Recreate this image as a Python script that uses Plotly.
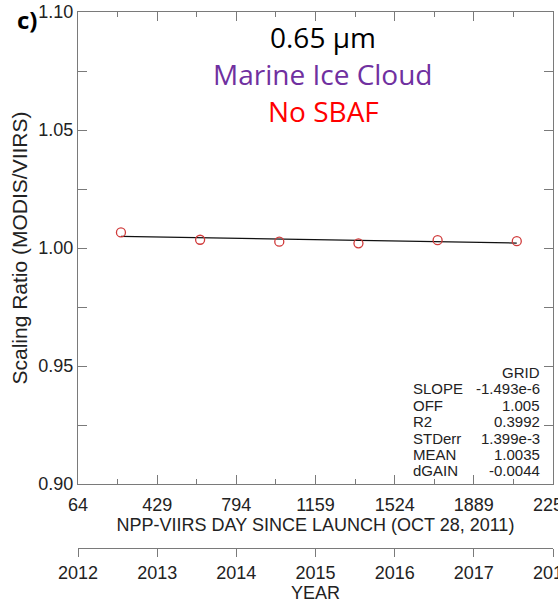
import numpy as np
import plotly.graph_objects as go

# ---- data ----
days = [262, 627, 992, 1357, 1722, 2087]
ratio = [1.0066, 1.0035, 1.0027, 1.0020, 1.0033, 1.0029]
day_ticks = [64, 429, 794, 1159, 1524, 1889, 2254]
y_ticks = [0.90, 0.95, 1.00, 1.05, 1.10]
years = [2012, 2013, 2014, 2015, 2016, 2017, 2018]
stat_header = "GRID"
stat_names = ["SLOPE", "OFF", "R2", "STDerr", "MEAN", "dGAIN"]
stat_values = ["-1.493e-6", "1.005", "0.3992", "1.399e-3", "1.0035", "-0.0044"]
title_lines = ["0.65 µm", "Marine Ice Cloud", "No SBAF"]
title_colors = ["#000000", "#7030A0", "#FF0000"]

# ---- geometry ----
W, H = 558, 606
ML, MR, MT, MB = 78, 5, 12, 58
PW, PH = W - ML - MR, H - MT - MB
PLOT_BOTTOM = 484


def px_x(px):
    return (px - ML) / PW


def px_y(py):
    return (H - MB - py) / PH


fit = np.polyfit(days, ratio, 1)
line_x = [days[0], days[-1]]
line_y = list(np.polyval(fit, line_x))

AX = "#7a7a7a"
TXT = "#222222"
FONT = "Liberation Sans, Arial, sans-serif"

fig = go.Figure()
fig.add_trace(go.Scatter(x=line_x, y=line_y, mode="lines",
                         line=dict(color="#111111", width=1.2), hoverinfo="skip"))
fig.add_trace(go.Scatter(x=days, y=ratio, mode="markers",
                         marker=dict(symbol="circle-open", size=9, color="#d03a3a",
                                     line=dict(width=1.3))))
fig.add_trace(go.Scatter(x=[years[0], years[-1]], y=[None, None], xaxis="x2", yaxis="y",
                         mode="markers", hoverinfo="skip"))

common = dict(showgrid=False, zeroline=False, showline=True, linecolor=AX, linewidth=1,
              tickcolor=AX, ticklabeloverflow="allow",
              tickfont=dict(family=FONT, size=18, color=TXT))

fig.update_layout(
    width=W, height=H, margin=dict(l=ML, r=MR, t=MT, b=MB, autoexpand=False),
    paper_bgcolor="white", plot_bgcolor="white", showlegend=False,
    font=dict(family=FONT, color=TXT),
    xaxis=dict(domain=[0, 1], range=[day_ticks[0], day_ticks[-1]], anchor="y",
               tickmode="array", tickvals=day_ticks, ticktext=[str(d) for d in day_ticks],
               ticks="inside", ticklen=9, mirror="allticks", ticklabelstandoff=4,
               minor=dict(ticks="inside", ticklen=5, tickcolor=AX, tick0=day_ticks[0],
                          dtick=(day_ticks[1] - day_ticks[0]) / 2, showgrid=False),
               title=dict(text="NPP-VIIRS DAY SINCE LAUNCH (OCT 28, 2011)",
                          font=dict(family=FONT, size=18, color=TXT), standoff=2),
               **common),
    yaxis=dict(domain=[(H - MB - PLOT_BOTTOM) / PH, 1], range=[y_ticks[0], y_ticks[-1]],
               anchor="x", tickmode="array", tickvals=y_ticks,
               ticktext=[f"{v:.2f}" for v in y_ticks],
               ticks="inside", ticklen=9, mirror="allticks",
               minor=dict(ticks="inside", ticklen=5, tickcolor=AX, tick0=y_ticks[0],
                          dtick=(y_ticks[1] - y_ticks[0]) / 2, showgrid=False),
               title=dict(text="Scaling Ratio (MODIS/VIIRS)",
                          font=dict(family=FONT, size=21, color=TXT), standoff=5),
               **common),
    xaxis2=dict(overlaying="x", anchor="free", position=0, side="bottom",
                range=[years[0], years[-1]], tickmode="array", tickvals=years,
                ticktext=[str(y) for y in years], ticks="outside", ticklen=8,
                title=dict(text="YEAR", font=dict(family=FONT, size=18, color=TXT), standoff=0),
                **common),
)

annotations = []
annotations.append(dict(text="<b>c)</b>", x=px_x(15), y=px_y(19), xref="paper", yref="paper",
                        xanchor="left", yanchor="middle", showarrow=False,
                        font=dict(family="Open Sans", size=24, color="#000")))
for i, (t, c) in enumerate(zip(title_lines, title_colors)):
    annotations.append(dict(text=t, x=px_x(323), y=px_y(37 + 37 * i), xref="paper", yref="paper",
                            xanchor="center", yanchor="middle", showarrow=False,
                            font=dict(family="Open Sans", size=28, color=c)))
row0, dy = 372.5, 16.4
annotations.append(dict(text=stat_header, x=px_x(542), y=px_y(row0), xref="paper", yref="paper",
                        xanchor="right", yanchor="middle", showarrow=False,
                        font=dict(family=FONT, size=15, color=TXT)))
for i, (n, v) in enumerate(zip(stat_names, stat_values)):
    yy = px_y(row0 + dy * (i + 1))
    annotations.append(dict(text=n, x=px_x(411), y=yy, xref="paper", yref="paper",
                            xanchor="left", yanchor="middle", showarrow=False,
                            font=dict(family=FONT, size=15, color=TXT)))
    annotations.append(dict(text=v, x=px_x(542), y=yy, xref="paper", yref="paper",
                            xanchor="right", yanchor="middle", showarrow=False,
                            font=dict(family=FONT, size=15, color=TXT)))
fig.update_layout(annotations=annotations)

fig.write_html("out.html")
